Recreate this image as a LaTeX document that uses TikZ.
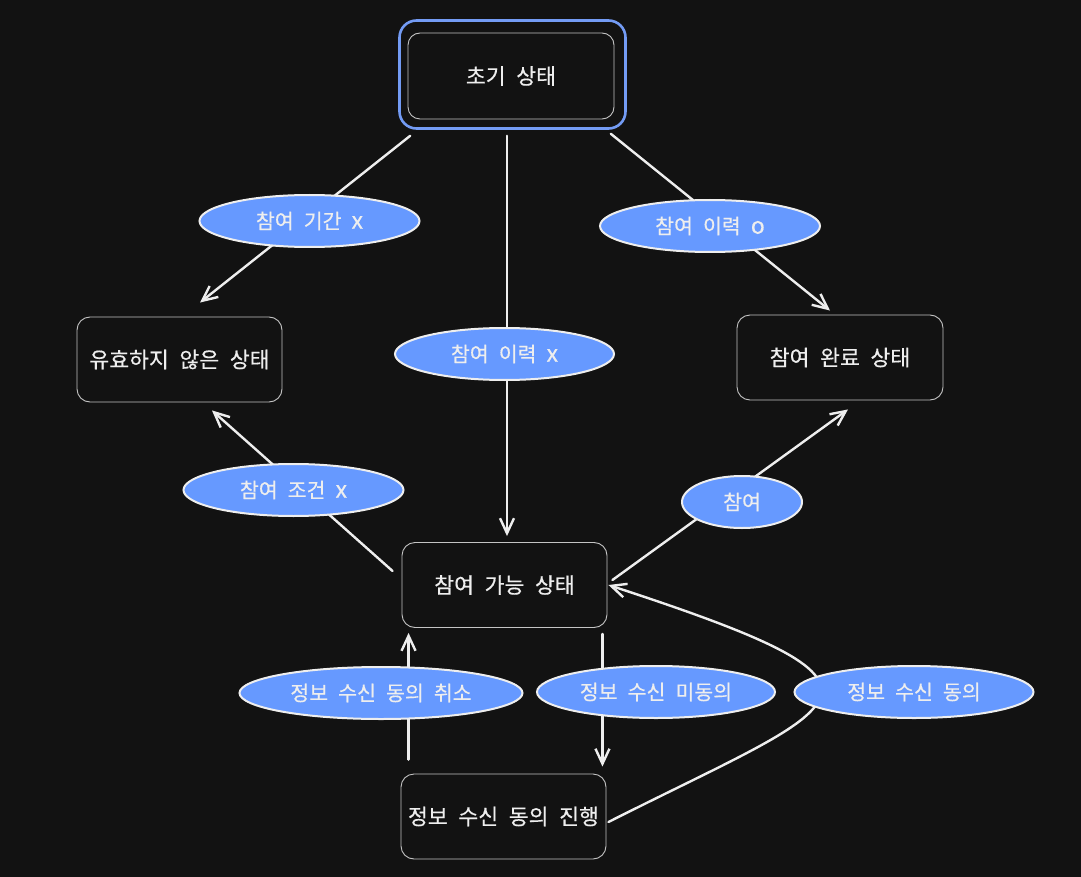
\documentclass[tikz,border=0pt]{standalone}
\usepackage{fontspec}
\setmainfont[WordSpace=2.2,FakeBold=0.4]{Noto Sans CJK KR}
\usetikzlibrary{arrows.meta,shapes.geometric,calc}
\definecolor{canvas}{HTML}{121212}
\definecolor{ink}{HTML}{EEEEEE}
\definecolor{boxline}{HTML}{C4C4C4}
\definecolor{labelfill}{HTML}{6699FF}
\definecolor{startline}{HTML}{739BF4}
% Latin marks inside the labels are set a little larger
\newcommand{\mk}[1]{{\fontsize{23}{24}\selectfont #1}}
\begin{document}
\begin{tikzpicture}[x=1pt,y=-1pt,
  statebox/.style={draw=boxline,line width=0.9pt,rounded corners=13pt,
    minimum width=205pt,minimum height=85pt,inner sep=0pt,text=ink,
    font=\fontsize{21.6}{24}\selectfont},
  startouter/.style={draw=startline,line width=2.6pt,rounded corners=17pt,
    minimum width=226pt,minimum height=108pt,inner sep=0pt},
  tag/.style={ellipse,draw=ink,line width=2pt,fill=labelfill,text=ink,
    minimum height=52pt,inner sep=0pt,font=\fontsize{20.5}{23}\selectfont},
  flow/.style={draw=ink,line width=2.4pt,line cap=round,
    -{Straight Barb[length=15pt,width=14pt,line width=2.4pt]}},
]
% canvas
\fill[canvas] (0,0) rectangle (1081,877);
\useasboundingbox (0,0) rectangle (1081,877);

% states
\node[startouter] (init) at (512.5,74.5) {};
\node[statebox,minimum width=206pt,minimum height=86pt,rounded corners=12pt] (initin) at (511,76) {초기 상태};
\node[statebox] (invalid) at (179.5,359.5) {유효하지 않은 상태};
\node[statebox,minimum width=206pt] (done) at (840,357.5) {참여 완료 상태};
\node[statebox] (possible) at (504.5,585) {참여 가능 상태};
\node[statebox] (progress) at (503.5,816.5) {정보 수신 동의 진행};

% transitions
\draw[flow] ($(init.south west)+(12,6)$) -- ($(invalid.north)+(20.5,-14)$);
\draw[flow] ($(init.south)+(-5.5,6)$) -- ($(possible.north)+(2.5,-6)$);
\draw[flow] ($(init.south east)+(-16,4)$) -- ($(done.north)+(-10,-4)$);
\draw[flow] ($(possible.west)+(-9,-14)$) -- ($(invalid.south)+(32.5,8)$);
\draw[flow] ($(possible.east)+(5,-5)$) -- ($(done.south)+(8,9)$);
\draw[flow] ($(possible.south east)+(-5,6)$) -- ($(progress.north east)+(-4,-7)$);
\draw[flow] ($(progress.north west)+(8,-14)$) -- ($(possible.south west)+(7,5)$);
\draw[flow] ($(progress.east)+(2,5.5)$) .. controls (850,700) and (930,690) .. ($(possible.east)+(1,0)$);

% transition labels
\node[tag,minimum width=220pt] (t1) at (309.5,221) {참여 기간 \mk{x}};
\node[tag,minimum width=220pt] (t2) at (710,226) {참여 이력 \mk{o}};
\node[tag,minimum width=219pt] (t3) at (504.5,354) {참여 이력 \mk{x}};
\node[tag,minimum width=220pt] (t4) at (293.5,490) {참여 조건 \mk{x}};
\node[tag,minimum width=120pt] (t5) at (742,502) {참여};
\node[tag,minimum width=283pt] (t6) at (381,693) {정보 수신 동의 취소};
\node[tag,minimum width=238pt] (t7) at (656,692) {정보 수신 미동의};
\node[tag,minimum width=239pt] (t8) at (914,692) {정보 수신 동의};
\end{tikzpicture}
\end{document}
